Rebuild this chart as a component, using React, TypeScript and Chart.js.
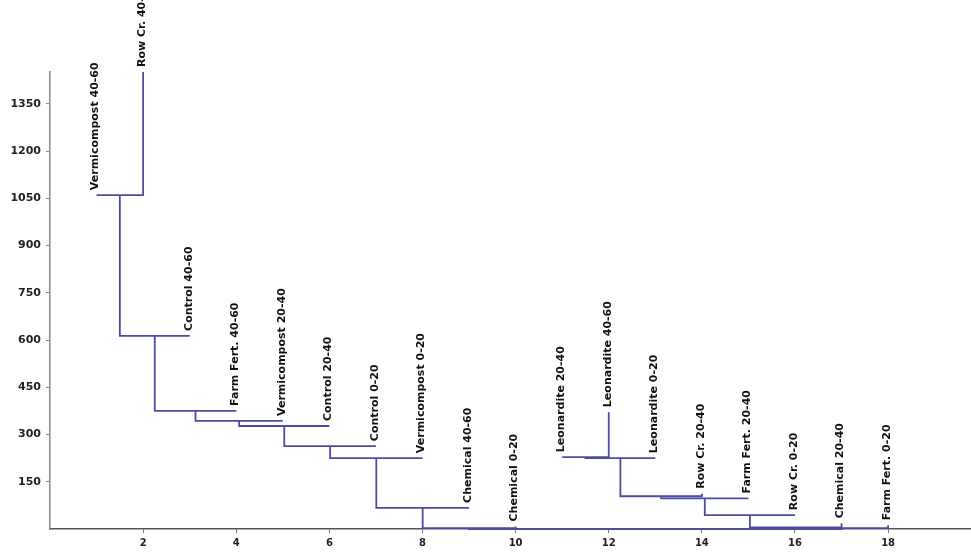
import React, { useEffect, useRef } from "react";
import { Chart, registerables } from "chart.js";

Chart.register(...registerables);

// Leaves (left to right, at x = 1..18)
const leafLabels = [
  "Vermicompost 40-60",
  "Row Cr. 40-60",
  "Control 40-60",
  "Farm Fert. 40-60",
  "Vermicompost 20-40",
  "Control 20-40",
  "Control 0-20",
  "Vermicompost 0-20",
  "Chemical 40-60",
  "Chemical 0-20",
  "Leonardite 20-40",
  "Leonardite 40-60",
  "Leonardite 0-20",
  "Row Cr. 20-40",
  "Farm Fert. 20-40",
  "Row Cr. 0-20",
  "Chemical 20-40",
  "Farm Fert. 0-20",
];
const leafTops = [1060, 1451, 613, 375, 343, 327, 263, 225, 67, 8, 228, 371, 225, 112, 97, 44, 18, 12];

// Linkage: ids 0..17 are leaves, 18+ are merges (in order)
const mergeChildA = [0, 18, 19, 20, 21, 22, 23, 24, 25, 10, 27, 28, 29, 30, 31, 32, 26];
const mergeChildB = [1, 2, 3, 4, 5, 6, 7, 8, 9, 11, 12, 13, 14, 15, 16, 17, 33];
const mergeHeights = [1060, 613, 375, 343, 327, 263, 225, 67, 3, 228, 225, 104, 97, 44, 5, 3, 0];

const xTickValues = [2, 4, 6, 8, 10, 12, 14, 16, 18];
const yTickValues = [150, 300, 450, 600, 750, 900, 1050, 1200, 1350];

const X_MAX = 19.78;
const Y_MAX = 1451;
const LINE_COLOR = "rgb(76,76,164)";

function buildDatasets() {
  const n = leafLabels.length;
  const pos: number[] = leafLabels.map((_, i) => i + 1);
  const top: number[] = [...leafTops];
  const datasets: any[] = [];
  mergeHeights.forEach((h, m) => {
    const a = mergeChildA[m];
    const b = mergeChildB[m];
    const xa = pos[a];
    const xb = pos[b];
    datasets.push({
      data: [
        { x: xa, y: top[a] },
        { x: xa, y: h },
        { x: xb, y: h },
        { x: xb, y: top[b] },
      ],
      borderColor: LINE_COLOR,
      borderWidth: 1.8,
      pointRadius: 0,
      showLine: true,
      tension: 0,
      fill: false,
      clip: false,
    });
    pos[n + m] = (xa + xb) / 2;
    top[n + m] = h;
  });
  return datasets;
}

const leafLabelPlugin = {
  id: "leafLabels",
  afterDatasetsDraw(chart: any) {
    const ctx = chart.ctx;
    const xs = chart.scales.x;
    const ys = chart.scales.y;
    ctx.save();
    ctx.font = 'bold 11px "DejaVu Sans"';
    ctx.fillStyle = "#111";
    ctx.textAlign = "left";
    ctx.textBaseline = "middle";
    leafLabels.forEach((label, i) => {
      const px = xs.getPixelForValue(i + 1);
      const py = ys.getPixelForValue(leafTops[i]) - 5;
      ctx.save();
      ctx.translate(px - 1, py);
      ctx.rotate(-Math.PI / 2);
      ctx.fillText(label, 0, 0);
      ctx.restore();
    });
    ctx.restore();
  },
};

export default function App() {
  const ref = useRef<HTMLCanvasElement | null>(null);
  useEffect(() => {
    if (!ref.current) return;
    const chart = new Chart(ref.current, {
      type: "scatter",
      data: { datasets: buildDatasets() },
      options: {
        animation: false,
        responsive: false,
        devicePixelRatio: 1,
        layout: { padding: { top: 72, left: 0, right: 0, bottom: 0 } },
        plugins: { legend: { display: false }, tooltip: { enabled: false } },
        scales: {
          x: {
            type: "linear",
            min: 0,
            max: X_MAX,
            afterBuildTicks: (scale: any) => {
              scale.ticks = xTickValues.map((v) => ({ value: v }));
            },
            afterFit: (scale: any) => {
              scale.height = 23;
            },
            border: { display: true, color: "#555", width: 1.5 },
            grid: { drawOnChartArea: false, drawTicks: true, tickLength: 4, color: "#777" },
            ticks: {
              font: { family: "DejaVu Sans", size: 10, weight: "bold" },
              color: "#222",
              padding: 4,
              maxRotation: 0,
              callback: (v: any) => String(v),
            },
          },
          y: {
            type: "linear",
            min: 0,
            max: Y_MAX,
            afterBuildTicks: (scale: any) => {
              scale.ticks = yTickValues.map((v) => ({ value: v }));
            },
            afterFit: (scale: any) => {
              scale.width = 50;
            },
            border: { display: true, color: "#888", width: 1.5 },
            grid: { drawOnChartArea: false, drawTicks: true, tickLength: 4, color: "#888" },
            ticks: {
              font: { family: "DejaVu Sans", size: 11, weight: "bold" },
              color: "#222",
              padding: 5,
              callback: (v: any) => String(v),
            },
          },
        },
      },
      plugins: [leafLabelPlugin],
    });
    return () => chart.destroy();
  }, []);
  return (
    <div style={{ position: "fixed", left: 0, top: 0, width: 971, height: 552, background: "#fff" }}>
      <canvas ref={ref} width={971} height={552} style={{ width: 971, height: 552 }} />
    </div>
  );
}
